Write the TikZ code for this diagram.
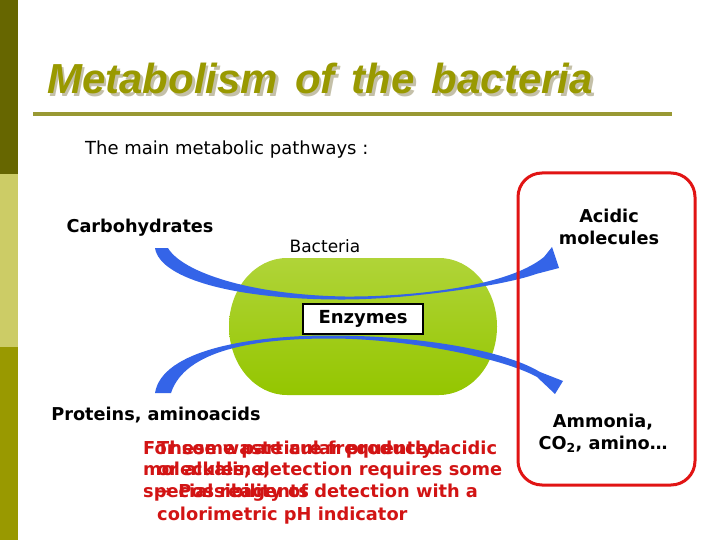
\documentclass[tikz,border=0pt]{standalone}
\usepackage{fontspec}
\setmainfont{DejaVu Sans}
\newfontfamily\titlefont{Liberation Sans}
\definecolor{bardark}{RGB}{102,102,0}
\definecolor{barlight}{RGB}{204,204,102}
\definecolor{barolive}{RGB}{153,153,0}
\definecolor{titleolive}{RGB}{153,153,0}
\definecolor{titleshadow}{RGB}{196,192,168}
\definecolor{lineolive}{RGB}{153,153,51}
\definecolor{arrowblue}{RGB}{52,100,232}
\definecolor{boxred}{RGB}{225,20,20}
\definecolor{redtext}{RGB}{210,20,20}
\definecolor{celltop}{RGB}{176,212,56}
\definecolor{cellbot}{RGB}{148,198,0}
\newcommand\titlewords{\spaceskip=17pt\relax Metabolism of the bacteria}
\tikzset{
  lbl/.style={inner sep=0pt, font=\bfseries\fontsize{17.7}{22}\selectfont, text=black},
  normlbl/.style={inner sep=0pt, font=\fontsize{17}{22}\selectfont, text=black},
  redline/.style={inner sep=0pt, anchor=base west, font=\bfseries\fontsize{17.8}{22}\selectfont, text=redtext},
  titletext/.style={inner sep=0pt, anchor=base west, font=\titlefont\bfseries\itshape\fontsize{42}{48}\selectfont},
  enzbox/.style={draw=black, line width=2.5pt, fill=white, minimum width=120pt, minimum height=30pt, inner sep=0pt, font=\bfseries\fontsize{18}{22}\selectfont},
  outbox/.style={draw=boxred, line width=3pt, rounded corners=24pt, minimum width=177pt, minimum height=312pt, inner sep=0pt},
  bluearrow/.style={fill=arrowblue, draw=none}
}
\begin{document}
\begin{tikzpicture}[x=1pt,y=-1pt]
\useasboundingbox (0,0) rectangle (720,540);
\fill[white] (0,0) rectangle (720,540);
% left bar
\fill[bardark] (0,0) rectangle (18,174);
\fill[barlight] (0,174) rectangle (18,347);
\fill[barolive] (0,347) rectangle (18,540);
% title
\node[titletext, text=titleshadow] (titleshadow) at (49.5,96.5) {\titlewords};
\node[titletext, text=titleolive] (title) at (47,94) {\titlewords};
\draw[line width=3.5pt, lineolive] (33,114) -- (672,114);
% subtitle
\node[inner sep=0pt, font=\fontsize{18}{22}\selectfont, anchor=west] (sub) at (85,150) {The main metabolic pathways :};
% cell (capsule)
\path[top color=celltop, bottom color=cellbot] (287,258) -- (439,258)
  arc[start angle=-90, end angle=90, x radius=58, y radius=68.5]
  -- (287,395)
  arc[start angle=90, end angle=270, x radius=58, y radius=68.5] -- cycle;
\coordinate (cell) at (363,326.5);
% arrows
\path[bluearrow] (168,248) .. controls (182,272) and (250,295) .. (345,296.5)
  .. controls (400,297) and (505,289) .. (544,257)
  -- (552,247) -- (559,268) -- (536,274)
  .. controls (500,287) and (400,299.5) .. (345,299.5)
  .. controls (240,300) and (160,280) .. (155,248) -- cycle;
\path[bluearrow] (155,393) .. controls (162,350) and (250,335.5) .. (330,335.5)
  .. controls (410,335.5) and (500,348) .. (540,372)
  -- (563,381) -- (555,394) -- (537,377)
  .. controls (505,359) and (410,338.5) .. (330,338.5)
  .. controls (255,338.5) and (185,350) .. (171,393) -- cycle;
% labels
\node[lbl] (carb) at (140,228) {Carbohydrates};
\node[lbl] (prot) at (156,415) {Proteins, aminoacids};
\node[normlbl] (bact) at (325,246) {Bacteria};
\node[enzbox] (enz) at (363,319) {Enzymes};
% output box
\node[outbox] (out) at (606.5,329) {};
\node[lbl, align=center] (acid) at (609,227) {Acidic\\molecules};
\node[lbl, align=center] (ammo) at (603,433) {Ammonia,\\CO\textsubscript{2}, amino…};
% red overlapping texts
\node[redline] (a1) at (143,454) {For some particular produced};
\node[redline] (a2) at (143,475) {molecules, detection requires some};
\node[redline] (a3) at (143,497) {special reagents};
\node[redline] (b1) at (157,454) {These waste are frequently acidic};
\node[redline] (b2) at (157,475) {or alkaline,};
\node[redline] (b3) at (157,497) {→ Possibility of detection with a};
\node[redline] (b4) at (157,520) {colorimetric pH indicator};
\end{tikzpicture}
\end{document}
